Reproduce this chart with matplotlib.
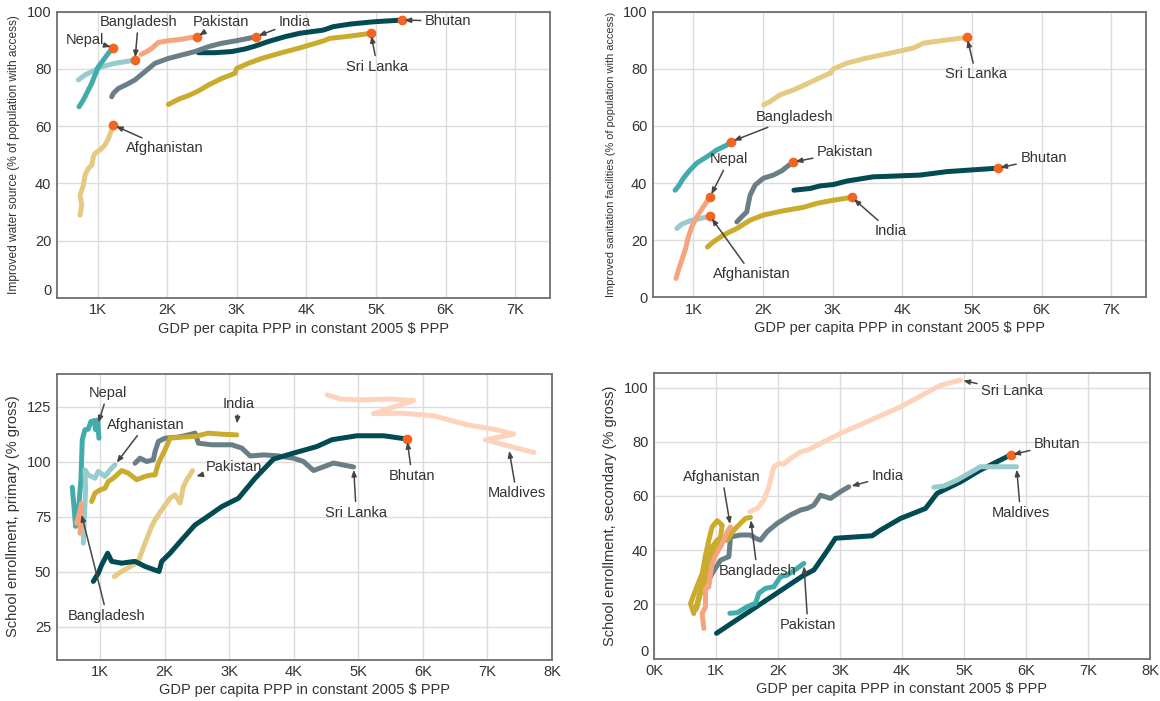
import matplotlib
matplotlib.use('Agg')
import matplotlib.pyplot as plt
from matplotlib.ticker import FuncFormatter, FixedLocator

plt.rcParams['font.family'] = ['Liberation Sans', 'DejaVu Sans']

# ---------------------------------------------------------------------------
# Data: (GDP per capita PPP, indicator value) paths per country
# ---------------------------------------------------------------------------

# Improved water source (% of population with access)
water_nepal = ([732, 794, 842, 914, 962, 1010, 1081, 1153, 1225],
               [66.8, 69.2, 71.5, 75.0, 77.9, 80.8, 83.1, 85.5, 87.5])
water_bangladesh = ([722, 818, 914, 1057, 1249, 1536],
                    [76.2, 77.9, 79.1, 80.8, 82.0, 83.1])
water_pakistan = ([1623, 1704, 1776, 1872, 2015, 2207, 2327, 2423],
                  [85.1, 86.1, 87.2, 89.3, 89.9, 90.4, 91.0, 91.2])
water_india = ([1201, 1225, 1297, 1417, 1536, 1680, 1824, 2015, 2207, 2399, 2590,
                2782, 2974, 3165, 3275],
               [70.3, 71.5, 73.2, 74.6, 76.2, 79.1, 82.0, 83.7, 84.9, 86.1, 87.8,
                89.0, 89.8, 90.7, 91.3])
water_bhutan = ([2447, 2686, 2926, 3117, 3261, 3452, 3692, 3907, 4241, 4385, 4625,
                 4960, 5368],
                [85.7, 85.7, 86.1, 87.0, 88.0, 89.6, 91.3, 92.5, 93.6, 94.8, 95.7,
                 96.5, 97.1])
water_srilanka = ([2015, 2159, 2302, 2446, 2590, 2782, 2973, 2997, 3165, 3357, 3644,
                   3907, 4241, 4337, 4625, 4926],
                  [67.6, 69.4, 70.7, 72.3, 74.4, 76.7, 78.5, 80.2, 82.0, 83.7, 85.7,
                   87.4, 89.8, 90.7, 91.5, 92.5])
water_afghanistan = ([746, 770, 746, 794, 818, 866, 914, 938, 962, 1034, 1105, 1153,
                      1201, 1225],
                     [28.9, 32.4, 35.9, 39.4, 42.9, 45.3, 46.4, 49.3, 50.5, 51.7, 53.4,
                      55.7, 58.7, 60.4])

# Improved sanitation facilities (% of population with access)
sanit_bangladesh = ([737, 786, 856, 953, 1049, 1193, 1336, 1480, 1542],
                    [37.5, 38.9, 41.7, 44.6, 47.0, 49.2, 51.6, 53.3, 54.5])
sanit_nepal = ([751, 785, 833, 881, 929, 977, 1049, 1144, 1240],
               [6.6, 9.5, 13.0, 16.5, 21.2, 24.7, 28.2, 31.7, 35.2])
sanit_afghanistan = ([762, 833, 953, 1096, 1240],
                     [24.1, 25.6, 26.8, 27.6, 28.4])
sanit_pakistan = ([1624, 1695, 1767, 1790, 1815, 1886, 2006, 2149, 2270, 2342, 2428],
                  [26.4, 28.2, 29.9, 32.9, 35.8, 39.3, 41.7, 42.8, 44.3, 45.7, 47.3])
sanit_india = ([1201, 1287, 1431, 1624, 1815, 2006, 2293, 2580, 2773, 3012, 3276],
               [17.6, 19.4, 21.8, 24.1, 27.0, 28.8, 30.3, 31.5, 32.9, 34.0, 35.0])
sanit_bhutan = ([2444, 2675, 2819, 3012, 3204, 3586, 3730, 4257, 4640, 5119, 5368],
                [37.5, 38.1, 39.0, 39.5, 40.7, 42.2, 42.3, 42.8, 44.0, 44.8, 45.2])
sanit_srilanka = ([2010, 2100, 2244, 2437, 2629, 2820, 2964, 3012, 3204, 3491, 3826,
                   4161, 4305, 4546, 4929],
                  [67.4, 68.5, 70.9, 72.6, 74.7, 76.9, 78.5, 80.0, 82.0, 83.8, 85.5,
                   87.3, 89.0, 89.8, 91.0])

# School enrollment, primary (% gross)
prim_nepal = ([571, 602, 623, 664, 705, 726, 767, 819, 860, 912, 933, 964, 984],
              [88.3, 78.0, 70.5, 76.5, 91.7, 109.9, 114.4, 114.7, 118.2, 118.6, 114.4,
               118.9, 110.6])
prim_bangladesh = ([638, 690, 716, 705, 690],
                   [72.0, 77.3, 81.1, 73.5, 67.4])
prim_afghanistan = ([742, 757, 778, 767, 819, 922, 974, 1078, 1155, 1233],
                    [62.9, 73.5, 87.1, 96.2, 93.9, 92.4, 95.5, 93.2, 96.2, 98.5])
prim_india = ([871, 922, 1000, 1078, 1129, 1207, 1336, 1439, 1568, 1698, 1801, 1853,
               1904, 2008, 2085, 2266, 2473, 2680, 2886, 3119],
              [81.8, 85.6, 87.1, 87.9, 90.9, 92.4, 95.9, 94.7, 91.7, 93.2, 93.9, 93.9,
               99.2, 105.3, 110.6, 111.1, 111.4, 112.9, 112.4, 112.1])
prim_srilanka = ([1543, 1620, 1724, 1827, 1853, 1904, 2008, 2214, 2370, 2473, 2525,
                  2731, 3041, 3196, 3326, 3532, 3739, 3997, 4152, 4307, 4617, 4927],
                 [99.2, 101.5, 100.0, 100.8, 104.5, 109.1, 110.6, 111.1, 112.1, 112.9,
                  108.3, 107.6, 107.6, 106.1, 102.5, 103.0, 102.6, 101.5, 100.0, 95.9,
                  99.3, 97.5])
prim_pakistan = ([1222, 1336, 1491, 1594, 1698, 1801, 1853, 1956, 2085, 2163, 2240,
                  2292, 2344, 2395, 2432],
                 [47.7, 50.0, 52.6, 54.6, 62.9, 70.5, 73.5, 78.0, 83.3, 84.9, 81.1,
                  88.6, 91.7, 93.9, 95.9])
prim_bhutan = ([897, 974, 1026, 1119, 1181, 1336, 1543, 1698, 1915, 1956, 2085, 2266,
                2473, 2628, 2886, 3145, 3403, 3687, 3997, 4359, 4592, 4979, 5392, 5755],
               [45.5, 49.2, 53.0, 58.3, 54.6, 53.8, 54.6, 52.3, 50.0, 54.6, 58.3, 64.4,
                71.2, 74.2, 79.5, 83.3, 92.4, 101.1, 103.8, 106.8, 109.9, 111.7, 111.7,
                110.2])
prim_maldives = ([4515, 4721, 5031, 5496, 5857, 5237, 5651, 6167, 6684, 7150, 7408,
                  6969, 7253, 7718],
                 [130.3, 128.4, 128.0, 128.4, 127.7, 121.7, 122.0, 120.8, 116.7, 114.4,
                  112.4, 109.9, 107.6, 104.1])

# School enrollment, secondary (% gross)
sec_bhutan = ([1008, 2400, 2580, 2800, 2927, 3519, 3653, 3976, 4379, 4567, 4944, 5266,
               5642, 5750],
              [9.3, 30.5, 32.7, 40.0, 44.4, 45.3, 47.4, 51.7, 55.4, 61.0, 65.2, 69.6,
               73.9, 75.1])
sec_srilanka = ([1545, 1665, 1771, 1852, 1933, 2013, 2094, 2202, 2363, 2471, 3008,
                 3976, 4621, 4944],
                [54.2, 55.4, 58.5, 63.4, 70.8, 72.0, 71.8, 73.9, 76.3, 76.9, 83.1,
                 92.9, 100.9, 102.8])
sec_india = ([884, 938, 1073, 1207, 1234, 1395, 1556, 1637, 1718, 1825, 1987, 2202,
              2363, 2471, 2578, 2685, 2847, 3008, 3142],
             [29.0, 31.4, 36.3, 37.6, 44.9, 45.6, 45.6, 44.4, 43.7, 46.8, 49.9, 53.0,
              54.8, 55.4, 56.6, 60.3, 59.1, 61.6, 63.4])
sec_bangladesh = ([642, 589, 669, 777, 831, 884, 938, 1019, 1099, 1073, 992, 911, 831,
                   750, 696, 669, 723, 804, 884, 938, 1019, 1180, 1288, 1395, 1476,
                   1556],
                  [16.6, 20.3, 25.2, 31.4, 38.1, 43.7, 48.6, 50.9, 49.2, 44.9, 41.3,
                   35.1, 29.0, 24.1, 19.1, 17.9, 22.8, 29.0, 36.3, 41.3, 43.7, 43.7,
                   47.4, 49.9, 51.7, 52.1])
sec_afghanistan = ([804, 777, 831, 831, 884, 911, 938, 992, 1073, 1126, 1180, 1234],
                   [11.1, 16.6, 19.1, 25.8, 26.4, 31.4, 35.1, 38.1, 41.3, 43.7, 46.8,
                    48.6])
sec_pakistan = ([1223, 1341, 1503, 1637, 1691, 1798, 1933, 2040, 2148, 2309, 2417],
                [16.7, 16.9, 19.1, 20.4, 24.1, 25.9, 26.5, 30.2, 30.8, 33.3, 35.1])
sec_maldives = ([4513, 4675, 4890, 5266, 5589, 5847],
                [63.2, 63.7, 65.9, 70.8, 70.8, 70.8])

XLABEL = 'GDP per capita PPP in constant 2005 $ PPP'

# ---------------------------------------------------------------------------
# Styling
# ---------------------------------------------------------------------------
DARK_TEAL = '#024b53'
TEAL = '#44abac'
LIGHT_TEAL = '#98cbcb'
SALMON = '#f5a57e'
SLATE = '#6a7e87'
MUSTARD = '#cbab2e'
KHAKI = '#e4ca82'
PEACH = '#fdd3bb'
DOT = '#f26522'
INK = '#333333'
ARROW = '#454545'
LW = 3.6


def fmt_k(v, _pos):
    return f'{int(round(v / 1000))}K'


def draw_panel(ax, series, notes, dots, xlim, ylim, xticks, yticks,
               ylabel, ylabel_size, zero_up=False):
    ax.set_xlim(*xlim)
    ax.set_ylim(*ylim)
    ax.xaxis.set_major_locator(FixedLocator(xticks))
    ax.yaxis.set_major_locator(FixedLocator(yticks))
    ax.xaxis.set_major_formatter(FuncFormatter(fmt_k))
    ax.grid(True, color='#dcdcdc', lw=1.0, zorder=0)
    ax.set_axisbelow(True)
    for sp in ax.spines.values():
        sp.set_color('#707070')
        sp.set_linewidth(1.3)
    ax.tick_params(length=0, pad=4, labelsize=10.5, labelcolor=INK)
    ax.set_xlabel(XLABEL, fontsize=10.5, color=INK, labelpad=3)
    ax.set_ylabel(ylabel, fontsize=ylabel_size, color=INK, labelpad=5)

    ends = {}
    for name, (gx, gy), color in series:
        ax.plot(gx, gy, color=color, lw=LW, solid_capstyle='round',
                solid_joinstyle='round', zorder=2)
        ends[name] = (gx[-1], gy[-1])
    for name in dots:
        x, y = ends[name]
        ax.plot([x], [y], 'o', color=DOT, ms=6, mec=DOT, zorder=4)
    for name, text_xy, target in notes:
        xy = target if target is not None else ends[name]
        ax.annotate(name, xy=xy, xytext=text_xy, ha='center', va='center',
                    fontsize=10.5, color=INK, zorder=5,
                    arrowprops=dict(arrowstyle='-|>,head_length=0.35,head_width=0.14',
                                    color=ARROW, lw=1.1, shrinkA=1, shrinkB=2))
    if zero_up:
        ax.get_yticklabels()[0].set_va('bottom')


fig = plt.figure(figsize=(11.6, 7.01), dpi=100)
W, H = 1160.0, 701.0


def axes_px(left, right, top, bottom):
    return fig.add_axes([left / W, (H - bottom) / H, (right - left) / W, (bottom - top) / H])


# Panel: water
ax1 = axes_px(57, 550, 11.8, 297.8)
draw_panel(
    ax1,
    [('Afghanistan', water_afghanistan, KHAKI),
     ('Sri Lanka', water_srilanka, MUSTARD),
     ('Bhutan', water_bhutan, DARK_TEAL),
     ('India', water_india, SLATE),
     ('Pakistan', water_pakistan, SALMON),
     ('Bangladesh', water_bangladesh, LIGHT_TEAL),
     ('Nepal', water_nepal, TEAL)],
    [('Nepal', (818, 90.1), None),
     ('Bangladesh', (1583, 96.5), None),
     ('Pakistan', (2767, 96.5), None),
     ('India', (3835, 96.5), None),
     ('Bhutan', (6037, 96.8), None),
     ('Sri Lanka', (5018, 80.8), None),
     ('Afghanistan', (1967, 52.3), None)],
    ['Nepal', 'Bangladesh', 'Pakistan', 'India', 'Bhutan', 'Sri Lanka', 'Afghanistan'],
    (415, 7500), (0, 100), range(1000, 8000, 1000), range(0, 101, 20),
    'Improved water source (% of population with access)', 8.6, zero_up=True)

# Panel: sanitation
ax2 = axes_px(653, 1146, 11.7, 297.3)
draw_panel(
    ax2,
    [('Bhutan', sanit_bhutan, DARK_TEAL),
     ('India', sanit_india, MUSTARD),
     ('Pakistan', sanit_pakistan, SLATE),
     ('Sri Lanka', sanit_srilanka, KHAKI),
     ('Afghanistan', sanit_afghanistan, LIGHT_TEAL),
     ('Nepal', sanit_nepal, SALMON),
     ('Bangladesh', sanit_bangladesh, TEAL)],
    [('Sri Lanka', (5057, 78.1), None),
     ('Bangladesh', (2447, 63.1), None),
     ('Nepal', (1513, 48.3), None),
     ('Pakistan', (3180, 51.0), None),
     ('Bhutan', (6029, 48.7), None),
     ('India', (3826, 23.2), None),
     ('Afghanistan', (1839, 8.1), None)],
    ['Nepal', 'Bangladesh', 'Pakistan', 'India', 'Bhutan', 'Sri Lanka', 'Afghanistan'],
    (420, 7500), (0, 100), range(1000, 8000, 1000), range(0, 101, 20),
    'Improved sanitation facilities (% of population with access)', 7.9)

# Panel: primary enrollment
ax3 = axes_px(56.7, 552, 373.5, 659.5)
draw_panel(
    ax3,
    [('Maldives', prim_maldives, PEACH),
     ('Sri Lanka', prim_srilanka, SLATE),
     ('India', prim_india, MUSTARD),
     ('Pakistan', prim_pakistan, KHAKI),
     ('Bhutan', prim_bhutan, DARK_TEAL),
     ('Nepal', prim_nepal, TEAL),
     ('Afghanistan', prim_afghanistan, LIGHT_TEAL),
     ('Bangladesh', prim_bangladesh, SALMON)],
    [('Nepal', (1119, 131.1), (964, 116.5)),
     ('Afghanistan', (1708, 116.7), None),
     ('India', (3145, 126.2), (3119, 116.0)),
     ('Pakistan', (3067, 97.7), (2450, 93.0)),
     ('Sri Lanka', (4969, 76.8), None),
     ('Bhutan', (5832, 93.5), None),
     ('Maldives', (7450, 85.6), (7330, 106.1)),
     ('Bangladesh', (1109, 29.9), (705, 77.0))],
    ['Bhutan'],
    (330, 8000), (10, 140), range(1000, 8001, 1000), range(25, 126, 25),
    'School enrollment, primary (% gross)', 10.5)

# Panel: secondary enrollment
ax4 = axes_px(654, 1150, 373.3, 658.5)
draw_panel(
    ax4,
    [('Bhutan', sec_bhutan, DARK_TEAL),
     ('Sri Lanka', sec_srilanka, PEACH),
     ('India', sec_india, SLATE),
     ('Bangladesh', sec_bangladesh, MUSTARD),
     ('Afghanistan', sec_afghanistan, SALMON),
     ('Pakistan', sec_pakistan, TEAL),
     ('Maldives', sec_maldives, LIGHT_TEAL)],
    [('Sri Lanka', (5777, 98.8), None),
     ('Bhutan', (6503, 79.2), None),
     ('Maldives', (5911, 53.8), None),
     ('India', (3771, 67.3), None),
     ('Afghanistan', (1099, 67.1), None),
     ('Bangladesh', (1664, 32.4), None),
     ('Pakistan', (2481, 12.4), None)],
    ['Bhutan'],
    (0, 8000), (0, 105.3), range(0, 8001, 1000), range(0, 101, 20),
    'School enrollment, secondary (% gross)', 10.5, zero_up=True)

fig.savefig('out.png', dpi=100)
